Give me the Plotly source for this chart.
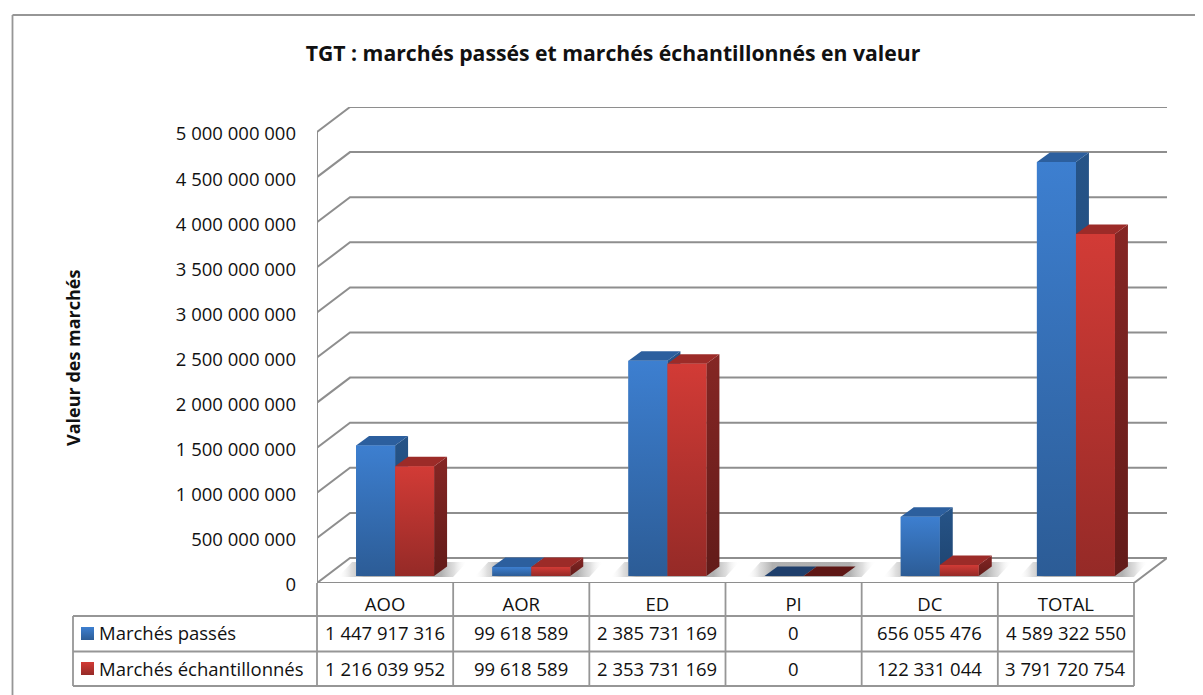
import plotly.graph_objects as go

W, H = 1203, 695
OFF = 8  # page margin around the figure
FW, FH = W - OFF, H - OFF
categories = ["AOO", "AOR", "ED", "PI", "DC", "TOTAL"]
passes = [1447917316, 99618589, 2385731169, 0, 656055476, 4589322550]
echantillonnes = [1216039952, 99618589, 2353731169, 0, 122331044, 3791720754]
tick_values = [0, 500000000, 1000000000, 1500000000, 2000000000, 2500000000,
               3000000000, 3500000000, 4000000000, 4500000000, 5000000000]
series_names = ["Marchés passés", "Marchés échantillonnés"]
title_text = "TGT : marchés passés et marchés échantillonnés en valeur"
y_title = "Valeur des marchés"

FONT = "Open Sans"
FS = 18.5
TXT = "#111111"
GRID = "#8e8e8e"
TBL = "#969696"

# Plot frame in pixels (front plane)
PX_L, PX_R, PX_T, PX_B = 317, 1134, 132, 583
cat_px = (PX_R - PX_L) / 6
val_px = (PX_B - PX_T) / 5e9
def ux(p): return p / cat_px
def uy(p): return p / val_px
def fmt(v): return f"{v:,}".replace(",", " ")
def px(x): return (x - OFF) / FW
def py(y): return 1 - (y - OFF) / FH

WALL_DX, WALL_DY = ux(33), uy(25)
SHIFT_X, BASE = ux(10), uy(7)
BAR_W = ux(39)
DEP_X, DEP_Y = ux(13), uy(9.5)
X0, X1 = -0.5, 5.5

styles = [
    dict(top="#3d7fd0", bottom="#2c5c96", side_t="#265488", side_b="#1e4470",
         cap="#2c5f9e", zero="#1f3f6c", bar="#3470b5"),
    dict(top="#d23b36", bottom="#952a27", side_t="#852624", side_b="#621b19",
         cap="#9c2b28", zero="#5e1715", bar="#b33330"),
]

fig = go.Figure()

# Real bars (base lifted onto the floor's depth)
for k, vals in enumerate([passes, echantillonnes]):
    fig.add_trace(go.Bar(
        x=[i + SHIFT_X for i in range(len(categories))], y=vals,
        base=[BASE] * len(vals), name=series_names[k],
        marker=dict(color=styles[k]["bar"], line_width=0), showlegend=False))

def poly(xs, ys, color=None, grad=None, hgrad=None):
    kw = dict(x=xs, y=ys, mode="lines", fill="toself", line=dict(width=0),
              hoverinfo="skip", showlegend=False)
    if grad:
        kw["fillgradient"] = dict(type="vertical", colorscale=[[0, grad[0]], [1, grad[1]]])
    elif hgrad:
        kw["fillgradient"] = dict(type="horizontal", colorscale=hgrad)
    else:
        kw["fillcolor"] = color
    fig.add_trace(go.Scatter(**kw))

# Grid: floor and walls
gx, gy = [], []
for v in tick_values:
    gx += [X0, X0 + WALL_DX, X1 + WALL_DX, None]
    gy += [v, v + WALL_DY, v + WALL_DY, None]
gx += [X0, X0, None, X0, X1, X1 + WALL_DX]
gy += [0, 5e9, None, 0, 0, WALL_DY]
fig.add_trace(go.Scatter(x=gx, y=gy, mode="lines", line=dict(color=GRID, width=2),
                         hoverinfo="skip", showlegend=False))

# Floor shadows
SH = [[0, "rgba(255,255,255,0)"], [0.10, "rgba(190,190,190,0.5)"], [0.2, "rgba(150,150,150,0.75)"],
      [0.8, "rgba(150,150,150,0.75)"], [0.9, "rgba(190,190,190,0.5)"], [1, "rgba(255,255,255,0)"]]
for i in range(len(categories)):
    c = i + SHIFT_X
    xl, xr = c - BAR_W - ux(18), c + BAR_W + ux(19)
    poly([xl, xl + ux(14), xr + ux(14), xr, xl],
         [BASE - uy(1), BASE + uy(14), BASE + uy(14), BASE - uy(1), BASE - uy(1)], hgrad=SH)

# 3D faces, computed from the values
for i in range(len(categories)):
    for k, vals in enumerate([passes, echantillonnes]):
        v, s = vals[i], styles[k]
        c = i + SHIFT_X
        l, r = (c - BAR_W, c) if k == 0 else (c, c + BAR_W)
        t = BASE + v
        if v > 0:
            poly([r, r + DEP_X, r + DEP_X, r, r],
                 [BASE, BASE + DEP_Y, t + DEP_Y, t, BASE], grad=(s["side_b"], s["side_t"]))
        poly([l, l + DEP_X, r + DEP_X, r, l], [t, t + DEP_Y, t + DEP_Y, t, t],
             color=s["cap"] if v > 0 else s["zero"])
        if v > 0:
            poly([l, r, r, l, l], [BASE, BASE, t, t, BASE], grad=(s["bottom"], s["top"]))

# Legend swatches (pixel overlay axes)
for k, y0 in enumerate([627, 662]):
    s = styles[k]
    fig.add_trace(go.Scatter(
        x=[81, 94, 94, 81, 81], y=[y0, y0, y0 + 13, y0 + 13, y0], xaxis="x2", yaxis="y2",
        mode="lines", fill="toself", line=dict(width=0), hoverinfo="skip", showlegend=False,
        fillgradient=dict(type="vertical", colorscale=[[0, s["bottom"]], [1, s["top"]]])))

shapes = []
R1, R2, R3 = 616, 651.5, 686
def hline(x0, x1, y):
    shapes.append(dict(type="line", xref="paper", yref="paper", x0=px(x0), x1=px(x1),
                       y0=py(y), y1=py(y), line=dict(color=TBL, width=1.8)))
def vline(x, y0, y1):
    shapes.append(dict(type="line", xref="paper", yref="paper", x0=px(x), x1=px(x),
                       y0=py(y0), y1=py(y1), line=dict(color=TBL, width=1.8)))
hline(12.5, W, 15)
vline(12.5, 15, H)
for y in (R1, R2, R3):
    hline(73, PX_R, y)
vline(73, R1, R3)
for i in range(7):
    vline(PX_L + i * cat_px, PX_B, R3)

annotations = [dict(text=f"<b>{y_title}</b>", xref="paper", yref="paper", x=px(73), y=py(358),
                    textangle=-90, showarrow=False, xanchor="center", yanchor="middle",
                    font=dict(family=FONT, size=18, color=TXT))]
for r, (name, vals, yc) in enumerate(zip(series_names, [passes, echantillonnes], [632.5, 668])):
    annotations.append(dict(text=name, xref="paper", yref="paper", x=px(97), y=py(yc),
                            xanchor="left", yanchor="middle", showarrow=False,
                            font=dict(family=FONT, size=FS, color=TXT)))
    for i, v in enumerate(vals):
        annotations.append(dict(text=fmt(v), xref="x", yref="paper", x=i, y=py(yc),
                                xanchor="center", yanchor="middle", showarrow=False,
                                font=dict(family=FONT, size=FS, color=TXT)))

fig.update_layout(
    width=FW, height=FH, autosize=False,
    margin=dict(l=0, r=0, t=0, b=0),
    paper_bgcolor="white", plot_bgcolor="rgba(0,0,0,0)",
    font=dict(family=FONT, size=FS, color=TXT),
    title=dict(text=f"<b>{title_text}</b>", x=px(613), xanchor="center",
               y=py(54), yanchor="middle", font=dict(family=FONT, size=21.2, color=TXT)),
    barmode="group", bargap=1 - 2 * BAR_W, bargroupgap=0,
    shapes=shapes, annotations=annotations, showlegend=False,
    xaxis=dict(domain=[px(PX_L), px(PX_R + 33)], range=[X0, X1 + WALL_DX], tickmode="array",
               tickvals=list(range(6)), ticktext=categories, ticks="", showgrid=False,
               zeroline=False, showline=False, ticklabelstandoff=8, automargin=False,
               tickfont=dict(family=FONT, size=FS, color=TXT)),
    yaxis=dict(domain=[py(PX_B), py(PX_T - 25)], range=[0, 5e9 + WALL_DY], tickmode="array",
               tickvals=tick_values, ticktext=[fmt(v) for v in tick_values], ticks="",
               showgrid=False, zeroline=False, showline=False, ticklabelstandoff=20,
               ticklabelshift=2, automargin=False,
               tickfont=dict(family=FONT, size=FS, color=TXT)),
    xaxis2=dict(domain=[0, 1], range=[OFF, W], anchor="y2", visible=False, fixedrange=True),
    yaxis2=dict(domain=[0, 1], range=[H, OFF], anchor="x2", visible=False, fixedrange=True),
)
fig.write_html("out.html")
